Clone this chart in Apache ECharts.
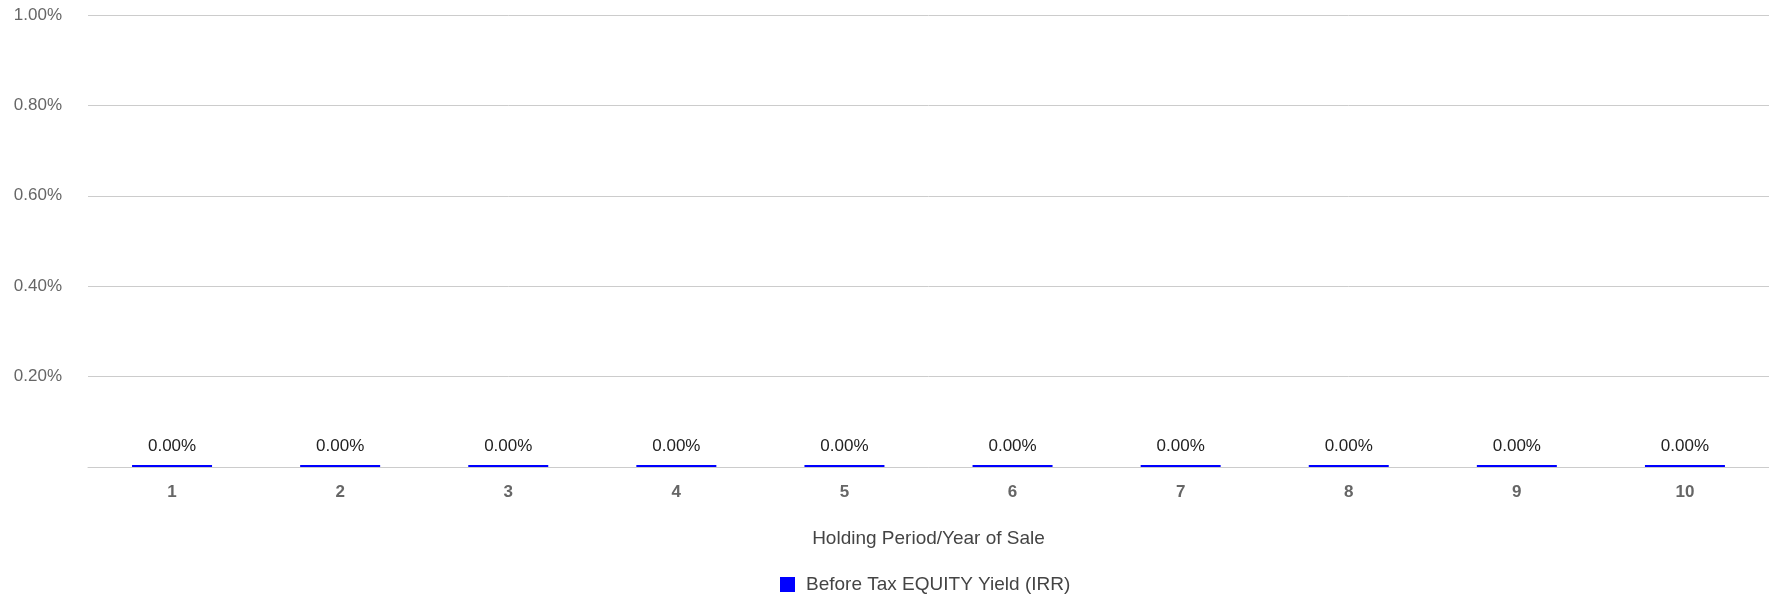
<!DOCTYPE html>
<html>
<head>
<meta charset="utf-8">
<style>
  html, body { margin: 0; padding: 0; background: #fff; }
  #chart { width: 1769px; height: 599px; }
</style>
<script src="https://cdn.jsdelivr.net/npm/echarts@6/dist/echarts.min.js"></script>
</head>
<body>
<div id="chart"></div>
<script>
var years = ['1', '2', '3', '4', '5', '6', '7', '8', '9', '10'];
var irrValues = [0, 0, 0, 0, 0, 0, 0, 0, 0, 0];
var seriesName = 'Before Tax EQUITY Yield (IRR)';
var xAxisName = 'Holding Period/Year of Sale';

var option = {
    textStyle: { fontFamily: 'Arial, "Liberation Sans", sans-serif' },
    animation: false,
    legend: {
        data: [seriesName],
        top: 575,
        left: 780,
        padding: 0,
        icon: 'rect',
        itemWidth: 15,
        itemHeight: 15,
        textStyle: { fontSize: 19, color: '#444', padding: [0, 0, 0, 6] }
    },
    grid: {
        left: 88,
        right: 0,
        top: 15,
        bottom: 132
    },
    xAxis: {
        type: 'category',
        data: years,
        name: xAxisName,
        nameLocation: 'middle',
        nameGap: 62,
        nameTextStyle: { fontSize: 19, color: '#444' },
        axisTick: { show: false },
        axisLine: { lineStyle: { color: '#ccc', width: 1 } },
        axisLabel: { fontSize: 17, fontWeight: 'bold', color: '#666', margin: 17 }
    },
    yAxis: {
        type: 'value',
        min: 0,
        max: 1,
        interval: 0.2,
        axisLine: { show: false },
        axisTick: { show: false },
        splitLine: { lineStyle: { color: '#ccc' } },
        axisLabel: {
            fontSize: 17,
            color: '#666',
            margin: 26,
            formatter: function (v) { return v === 0 ? '' : v.toFixed(2) + '%'; }
        }
    },
    series: [
        {
            name: seriesName,
            type: 'bar',
            data: irrValues,
            barWidth: 80,
            barMinHeight: 2,
            itemStyle: { color: '#0000ff' },
            label: {
                show: true,
                position: 'top',
                distance: 10,
                fontSize: 17,
                color: '#222',
                formatter: function (p) { return p.value.toFixed(2) + '%'; }
            }
        }
    ]
};

var chart = echarts.init(document.getElementById('chart'));
chart.setOption(option);
</script>
</body>
</html>
